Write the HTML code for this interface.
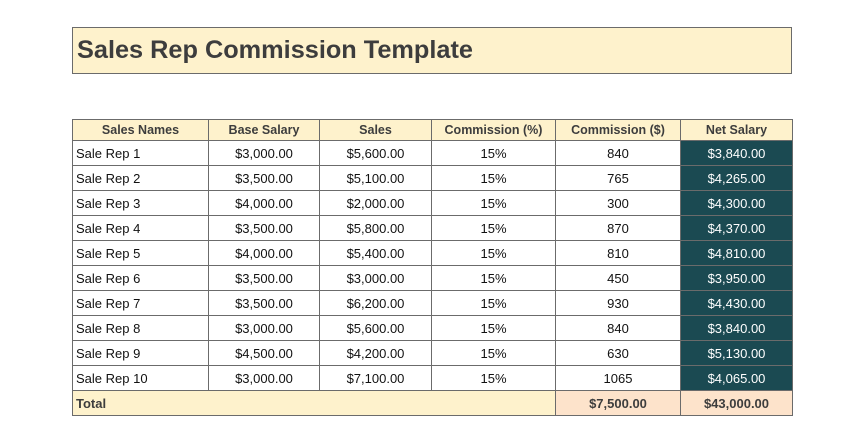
<!DOCTYPE html>
<html><head><style>
body{margin:0;width:866px;height:434px;background:#fff;font-family:"Liberation Sans",Arial,sans-serif;position:relative;overflow:hidden}
.title{position:absolute;left:72px;top:27px;background:#fef2cc;border:1px solid #6b6b6b;color:#3d3d3d;font-weight:bold;font-size:25.3px;line-height:45px;padding-left:4px;box-sizing:border-box;width:720px;height:47px}
table{position:absolute;left:72px;top:119px;border-collapse:collapse;width:720px;table-layout:fixed}
td,th{border:1px solid #6b6b6b;height:24px;padding:0;font-size:13px;color:#111;text-align:center;white-space:nowrap}
th{height:20px;background:#fef2cc;color:#3d3d3d;font-size:12.5px}
td.n{text-align:left;padding-left:3px}
td.d{background:#1b4a52;color:#fff;border-color:#6b6b6b}
tr.t td{background:#fef2cc;font-weight:bold;color:#3d3d3d;text-align:left;padding-left:3px;height:24px}
tr.t td.p{background:#fde3cb;text-align:center;padding-left:0}
</style></head><body>
<div class="title">Sales Rep Commission Template</div>
<table>
<colgroup><col style="width:136px"><col style="width:111px"><col style="width:112px"><col style="width:124px"><col style="width:125px"><col style="width:112px"></colgroup>
<tr><th>Sales Names</th><th>Base Salary</th><th>Sales</th><th>Commission (%)</th><th>Commission ($)</th><th>Net Salary</th></tr>
<tr><td class="n">Sale Rep 1</td><td>$3,000.00</td><td>$5,600.00</td><td>15%</td><td>840</td><td class="d">$3,840.00</td></tr>
<tr><td class="n">Sale Rep 2</td><td>$3,500.00</td><td>$5,100.00</td><td>15%</td><td>765</td><td class="d">$4,265.00</td></tr>
<tr><td class="n">Sale Rep 3</td><td>$4,000.00</td><td>$2,000.00</td><td>15%</td><td>300</td><td class="d">$4,300.00</td></tr>
<tr><td class="n">Sale Rep 4</td><td>$3,500.00</td><td>$5,800.00</td><td>15%</td><td>870</td><td class="d">$4,370.00</td></tr>
<tr><td class="n">Sale Rep 5</td><td>$4,000.00</td><td>$5,400.00</td><td>15%</td><td>810</td><td class="d">$4,810.00</td></tr>
<tr><td class="n">Sale Rep 6</td><td>$3,500.00</td><td>$3,000.00</td><td>15%</td><td>450</td><td class="d">$3,950.00</td></tr>
<tr><td class="n">Sale Rep 7</td><td>$3,500.00</td><td>$6,200.00</td><td>15%</td><td>930</td><td class="d">$4,430.00</td></tr>
<tr><td class="n">Sale Rep 8</td><td>$3,000.00</td><td>$5,600.00</td><td>15%</td><td>840</td><td class="d">$3,840.00</td></tr>
<tr><td class="n">Sale Rep 9</td><td>$4,500.00</td><td>$4,200.00</td><td>15%</td><td>630</td><td class="d">$5,130.00</td></tr>
<tr><td class="n">Sale Rep 10</td><td>$3,000.00</td><td>$7,100.00</td><td>15%</td><td>1065</td><td class="d">$4,065.00</td></tr>
<tr class="t"><td colspan="4">Total</td><td class="p">$7,500.00</td><td class="p">$43,000.00</td></tr>
</table>
</body></html>
